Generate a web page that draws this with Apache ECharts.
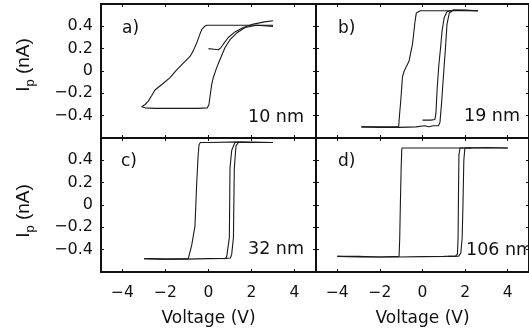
<!DOCTYPE html>
<html>
<head>
<meta charset="utf-8">
<script src="https://cdn.jsdelivr.net/npm/echarts@6/dist/echarts.min.js"></script>
<style>
html,body{margin:0;padding:0;background:#fff;}
#chart{width:529px;height:335px;}
</style>
</head>
<body>
<div id="chart"></div>
<script>
// ---- data (Voltage V, current nA) ----
const xTicks = [-4, -2, 0, 2, 4];
const yTicks = [-0.4, -0.2, 0, 0.2, 0.4];
const panelLetters = ['a)', 'b)', 'c)', 'd)'];
const thicknessLabels = ['10 nm', '19 nm', '32 nm', '106 nm'];
const xAxisTitle = 'Voltage (V)';

// panel a (10 nm)
const a_initial = [[0.0,0.20],[0.25,0.195],[0.46,0.19],[0.58,0.21],[0.69,0.24],[0.92,0.30],[1.23,0.35],[1.62,0.39],[2.09,0.42],[2.6,0.44],[3.0,0.45]];
const a_down = [[3.0,0.41],[2.5,0.41],[1.5,0.41],[0.5,0.41],[-0.08,0.41],[-0.18,0.40],[-0.32,0.37],[-0.40,0.33],[-0.55,0.25],[-0.71,0.18],[-0.86,0.13],[-1.17,0.07],[-1.48,0.01],[-1.79,-0.06],[-2.10,-0.11],[-2.49,-0.17],[-2.64,-0.22],[-2.80,-0.27],[-2.95,-0.30],[-3.11,-0.32]];
const a_up = [[-3.11,-0.32],[-2.95,-0.33],[-2.5,-0.335],[-1.5,-0.335],[-0.5,-0.335],[-0.05,-0.33],[0.02,-0.30],[0.07,-0.23],[0.15,-0.12],[0.22,-0.06],[0.38,0.03],[0.53,0.10],[0.77,0.21],[1.0,0.28],[1.31,0.34],[1.70,0.39],[2.24,0.41],[3.0,0.40]];

// panel b (19 nm)
const b_initial = [[0.0,-0.44],[0.4,-0.44],[0.58,-0.435],[0.63,-0.38],[0.69,-0.15],[0.77,0.06],[0.85,0.21],[0.92,0.36],[1.02,0.48],[1.15,0.53],[1.45,0.545],[2.0,0.545],[2.6,0.54]];
const b_down = [[2.6,0.54],[1.5,0.54],[0.5,0.54],[-0.1,0.54],[-0.18,0.535],[-0.29,0.52],[-0.35,0.445],[-0.47,0.24],[-0.63,0.09],[-0.86,0.0],[-0.94,-0.05],[-1.01,-0.24],[-1.09,-0.42],[-1.12,-0.50],[-2.0,-0.50],[-2.87,-0.50]];
const b_up = [[-2.87,-0.50],[-2.0,-0.505],[-1.12,-0.505],[-0.3,-0.50],[0.1,-0.49],[0.3,-0.50],[0.5,-0.49],[0.75,-0.49],[0.82,-0.46],[0.89,-0.30],[1.0,0.0],[1.08,0.21],[1.15,0.42],[1.26,0.52],[1.45,0.545],[2.6,0.54]];

// panel c (32 nm)
const c_down = [[3.0,0.56],[1.5,0.565],[0.0,0.56],[-0.38,0.56],[-0.44,0.54],[-0.48,0.45],[-0.55,0.19],[-0.63,-0.19],[-0.78,-0.36],[-0.94,-0.48],[-2.0,-0.485],[-3.0,-0.48]];
const c_up1 = [[-3.0,-0.48],[-2.0,-0.485],[-1.0,-0.485],[0.0,-0.48],[0.8,-0.478],[0.85,-0.46],[0.97,-0.29],[1.0,0.33],[1.08,0.49],[1.23,0.56],[2.0,0.56],[3.0,0.56]];
const c_up2 = [[0.7,-0.48],[1.02,-0.475],[1.08,-0.44],[1.16,-0.29],[1.2,0.33],[1.28,0.53],[1.39,0.56],[2.5,0.56]];

// panel d (106 nm)
const d_down = [[4.0,0.51],[3.0,0.515],[2.0,0.51],[0.0,0.51],[-0.97,0.51],[-1.0,0.35],[-1.04,0.0],[-1.07,-0.3],[-1.1,-0.46],[-2.0,-0.465],[-3.0,-0.46],[-4.0,-0.46]];
const d_up1 = [[-4.0,-0.46],[-3.0,-0.465],[-1.1,-0.465],[0.0,-0.462],[1.0,-0.46],[1.55,-0.458],[1.64,-0.44],[1.67,-0.3],[1.69,0.1],[1.71,0.45],[1.76,0.51],[2.5,0.51],[4.0,0.51]];
const d_up2 = [[1.2,-0.46],[1.7,-0.458],[1.8,-0.43],[1.86,-0.3],[1.9,0.0],[1.94,0.4],[1.99,0.51],[2.3,0.512]];

const panelSeries = [
  [a_initial, a_down, a_up],
  [b_initial, b_down, b_up],
  [c_down, c_up1, c_up2],
  [d_down, d_up1, d_up2]
];

// ---- layout ----
const FONT = 'DejaVu Sans';
const INK = '#111';
const lefts = [101, 316];
const tops = [4, 138];
const GW = 215, GH = 134;

const fmt = v => (v < 0 ? '\u2212' + String(-v) : String(v));

const grids = [], xAxes = [], yAxes = [], series = [];
for (let i = 0; i < 4; i++) {
  const row = Math.floor(i / 2), col = i % 2;
  grids.push({left: lefts[col], top: tops[row], width: GW, height: GH, show: true,
    borderColor: INK, borderWidth: 2, backgroundColor: 'transparent'});
  ['bottom', 'top'].forEach(pos => {
    const showLab = (pos === 'bottom' && row === 1);
    xAxes.push({
      type: 'value', gridIndex: i, position: pos, min: -5, max: 5,
      axisLine: {show: false, onZero: false},
      axisTick: {show: true, inside: true, length: 3, customValues: xTicks, lineStyle: {color: INK, width: 1}},
      axisLabel: {show: showLab, customValues: xTicks, formatter: fmt, margin: 13,
        fontFamily: FONT, fontSize: 15.5, color: INK},
      splitLine: {show: false},
      name: showLab ? xAxisTitle : '', nameLocation: 'middle', nameGap: 38,
      nameTextStyle: {fontFamily: FONT, fontSize: 17, color: INK}
    });
  });
  ['left', 'right'].forEach(pos => {
    const showLab = (pos === 'left' && col === 0);
    yAxes.push({
      type: 'value', gridIndex: i, position: pos, min: -0.6, max: 0.6,
      axisLine: {show: false, onZero: false},
      axisTick: {show: true, inside: true, length: 3, customValues: yTicks, lineStyle: {color: INK, width: 1}},
      axisLabel: {show: showLab, customValues: yTicks, formatter: fmt, margin: 8,
        fontFamily: FONT, fontSize: 16, color: INK},
      splitLine: {show: false}
    });
  });
  panelSeries[i].forEach(d => {
    series.push({
      type: 'line', xAxisIndex: 2 * i, yAxisIndex: 2 * i, data: d,
      showSymbol: false, symbol: 'none', smooth: false, silent: true, z: 3,
      lineStyle: {color: '#1a1a1a', width: 1.1}
    });
  });
}

const letterPos = [[122, 29], [338, 29], [121, 162], [338, 162]];
const thickPos = [[248, 117], [464, 116], [248, 249], [466, 250.5]];
const graphic = [];
for (let i = 0; i < 4; i++) {
  graphic.push({type: 'text', x: letterPos[i][0], y: letterPos[i][1], z: 10,
    style: {text: panelLetters[i], fontFamily: FONT, fontSize: 17, fill: INK, align: 'left', verticalAlign: 'middle'}});
  graphic.push({type: 'text', x: thickPos[i][0], y: thickPos[i][1], z: 10,
    style: {text: thicknessLabels[i], fontFamily: FONT, fontSize: 17.5, fill: INK, align: 'left', verticalAlign: 'middle'}});
}
[65, 211].forEach(cy => {
  graphic.push({type: 'text', x: 24, y: cy, rotation: Math.PI / 2, z: 10,
    style: {text: '{i|I}{p|p}{i| (nA)}', align: 'center', verticalAlign: 'middle', fill: INK,
      rich: {
        i: {fontFamily: 'Liberation Sans', fontSize: 19, lineHeight: 26, fill: INK},
        p: {fontFamily: 'Liberation Sans', fontSize: 13, lineHeight: 13, verticalAlign: 'bottom', fill: INK}
      }}});
});

const chart = echarts.init(document.getElementById('chart'), null, {renderer: 'canvas'});
chart.setOption({
  animation: false,
  backgroundColor: '#fff',
  grid: grids, xAxis: xAxes, yAxis: yAxes, series: series, graphic: graphic
});
</script>
</body>
</html>
